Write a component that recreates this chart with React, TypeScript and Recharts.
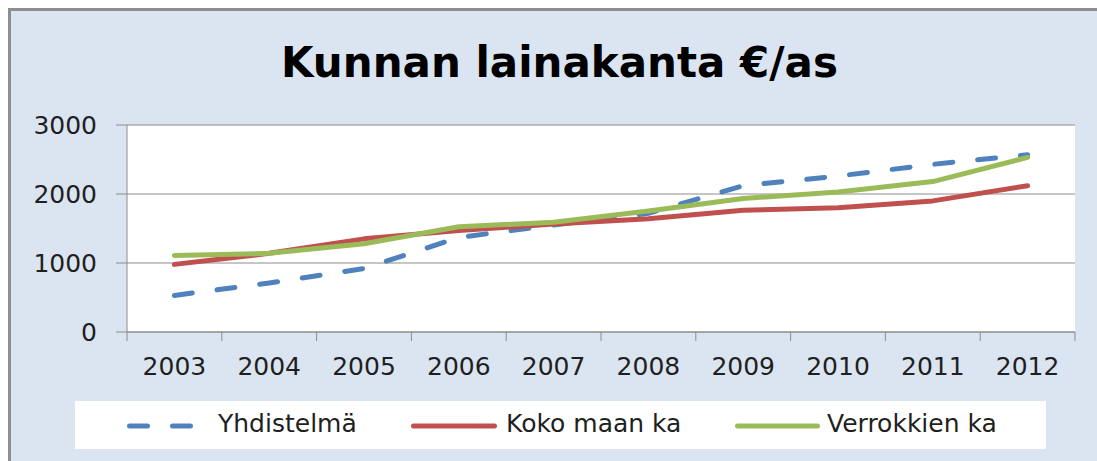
import { LineChart, Line, XAxis, YAxis, CartesianGrid, Legend } from "recharts";

// Office 2007 palette
const BLUE = "#4f81bd";
const RED = "#c0504d";
const GREEN = "#9bbb59";
const PANEL_BG = "#dbe5f1";
const GRID = "#8c8c8c";
const TEXT = "#1f1f1f";
const FONT = "'DejaVu Sans', sans-serif";

const YEARS = [2003, 2004, 2005, 2006, 2007, 2008, 2009, 2010, 2011, 2012];
const YHDISTELMA = [530, 710, 920, 1370, 1550, 1720, 2120, 2260, 2430, 2570];
const KOKO_MAA = [980, 1140, 1350, 1470, 1565, 1640, 1765, 1800, 1900, 2120];
const VERROKIT = [1110, 1140, 1280, 1525, 1590, 1755, 1935, 2030, 2180, 2530];
const Y_TICKS = [0, 1000, 2000, 3000];

const SERIES = [
  { key: "yhdistelma", name: "Yhdistelmä", color: BLUE, dash: "18 25" },
  { key: "kokoMaa", name: "Koko maan ka", color: RED, dash: undefined },
  { key: "verrokit", name: "Verrokkien ka", color: GREEN, dash: undefined },
];

const data = YEARS.map((year, i) => ({
  year,
  yhdistelma: YHDISTELMA[i],
  kokoMaa: KOKO_MAA[i],
  verrokit: VERROKIT[i],
}));

// tick marks sit on the category boundaries, labels in between
const BOUNDARIES = [...YEARS.map((y) => y - 0.5), YEARS[YEARS.length - 1] + 0.5];

const W = 1097;
const H = 461;
const MARGIN = { top: 125, right: 22, bottom: 89, left: 0 };
const Y_AXIS_W = 127;
const PLOT_W = W - MARGIN.left - MARGIN.right - Y_AXIS_W;
const BAND = PLOT_W / YEARS.length;
const LINE_W = 5;

// legend item placement inside the white box
const LEGEND_POS: Record<string, { icon: number; iconW: number; text: number }> = {
  yhdistelma: { icon: 52, iconW: 66, text: 143 },
  kokoMaa: { icon: 336, iconW: 86, text: 431 },
  verrokit: { icon: 660, iconW: 85, text: 752 },
};

function YearTick(props: any) {
  const { x, y, index } = props;
  if (index >= YEARS.length) return <g />;
  return (
    <text
      x={x + BAND / 2}
      y={y}
      dy="0.71em"
      textAnchor="middle"
      fontSize={25}
      fontFamily={FONT}
      fill={TEXT}
    >
      {YEARS[index]}
    </text>
  );
}

function LegendBox(props: any) {
  const payload = props.payload || [];
  return (
    <div
      style={{
        position: "relative",
        width: 971,
        height: 48,
        background: "#fff",
        fontFamily: FONT,
        fontSize: 25,
        color: TEXT,
      }}
    >
      {payload.map((entry: any) => {
        const s = SERIES.find((it) => it.key === entry.dataKey)!;
        const pos = LEGEND_POS[s.key];
        return (
          <div key={s.key}>
            <svg
              width={pos.iconW}
              height={10}
              style={{ position: "absolute", left: pos.icon, top: 20 }}
            >
              <line
                x1={LINE_W / 2}
                x2={pos.iconW - LINE_W / 2}
                y1={5}
                y2={5}
                stroke={s.color}
                strokeWidth={LINE_W}
                strokeLinecap="round"
                strokeDasharray={s.dash}
              />
            </svg>
            <span
              style={{
                position: "absolute",
                left: pos.text,
                top: 8,
                lineHeight: "30px",
                whiteSpace: "nowrap",
              }}
            >
              {entry.value}
            </span>
          </div>
        );
      })}
    </div>
  );
}

export default function App() {
  return (
    <div
      style={{
        position: "absolute",
        left: 0,
        top: 0,
        width: W,
        height: H,
        background: "#fff",
        overflow: "hidden",
        fontFamily: FONT,
      }}
    >
      <div
        style={{
          position: "absolute",
          left: 8,
          top: 8,
          width: W,
          height: H,
          background: PANEL_BG,
          borderLeft: "3px solid #8e8e8e",
          borderTop: "3px solid #8e8e8e",
        }}
      />
      <div
        style={{
          position: "absolute",
          left: 0,
          top: 42,
          width: 1119,
          textAlign: "center",
          fontSize: 42,
          lineHeight: "42px",
          fontWeight: "bold",
          color: "#000",
          whiteSpace: "nowrap",
        }}
      >
        Kunnan lainakanta €/as
      </div>
      <div style={{ position: "absolute", left: 0, top: 0 }}>
        <LineChart width={W} height={H} data={data} margin={MARGIN}>
          <CartesianGrid vertical={false} stroke={GRID} fill="#fff" fillOpacity={1} />
          <XAxis
            dataKey="year"
            type="number"
            domain={[BOUNDARIES[0], BOUNDARIES[BOUNDARIES.length - 1]]}
            ticks={BOUNDARIES}
            interval={0}
            height={40}
            tickSize={9}
            tickMargin={16}
            axisLine={{ stroke: GRID }}
            tickLine={{ stroke: GRID }}
            tick={YearTick}
          />
          <YAxis
            domain={[0, 3000]}
            ticks={Y_TICKS}
            interval={0}
            width={Y_AXIS_W}
            tickSize={11}
            tickMargin={19}
            axisLine={{ stroke: GRID }}
            tickLine={{ stroke: GRID }}
            tick={{ fontSize: 25, fill: TEXT, fontFamily: FONT }}
          />
          {SERIES.map((s) => (
            <Line
              key={s.key}
              type="linear"
              dataKey={s.key}
              name={s.name}
              stroke={s.color}
              strokeWidth={LINE_W}
              strokeDasharray={s.dash}
              strokeLinecap="round"
              strokeLinejoin="round"
              dot={false}
              activeDot={false}
              isAnimationActive={false}
            />
          ))}
          <Legend
            layout="horizontal"
            verticalAlign="middle"
            align="center"
            wrapperStyle={{ left: 75, top: 401, width: 971, height: 48 }}
            content={LegendBox}
          />
        </LineChart>
      </div>
    </div>
  );
}
